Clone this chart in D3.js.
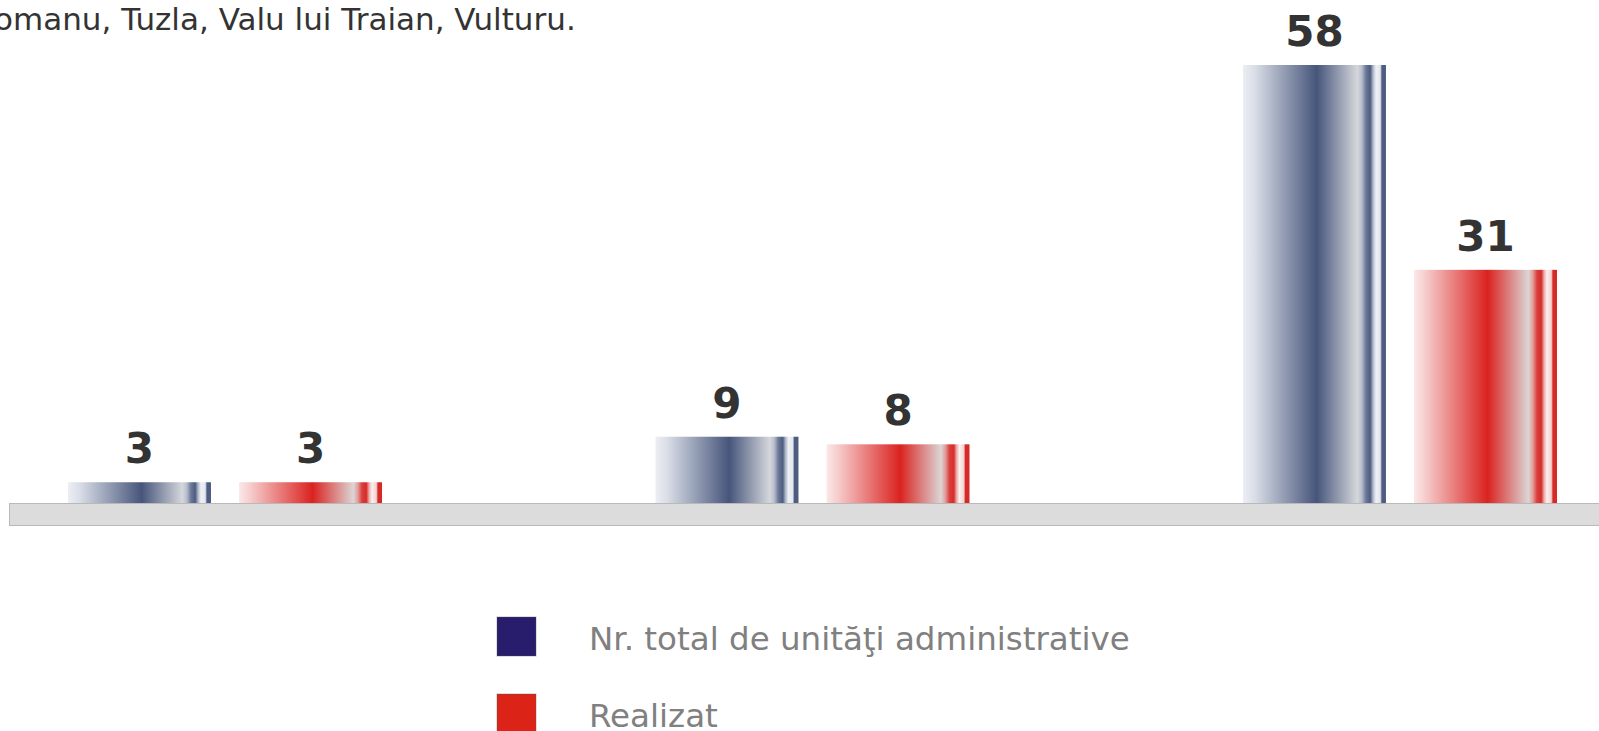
<!DOCTYPE html>
<html lang="ro">
<head>
<meta charset="UTF-8">
<title>Unităţi administrative</title>
<style>
  * { margin: 0; padding: 0; box-sizing: border-box; }
  body { background: #fff; overflow: hidden; }
  svg { display: block; }
</style>
</head>
<body>
<svg id="chart" width="1599" height="731"></svg>
<script src="https://cdn.jsdelivr.net/npm/d3@7"></script>
<script>
  // categories are not printed on the chart (municipii / orase / comune)
  const categories = ["Municipii", "Orașe", "Comune"];
  const series = ["Nr. total de unităţi administrative", "Realizat"];
  const totalValues = [3, 9, 58];
  const realizatValues = [3, 8, 31];
  const seriesValues = [totalValues, realizatValues];
  const noteText = "omanu, Tuzla, Valu lui Traian, Vulturu.";

  const width = 1599, height = 731;
  const svg = d3.select("#chart");
  const defs = svg.append("defs");

  // bar gradients, one per series
  const gradStops = [
    [[0, "#eceef3"], [0.08, "#dadee7"], [0.515, "#46557b"], [0.80, "#d5d7db"], [0.83, "#b8bfcd"],
     [0.86, "#6b7898"], [0.89, "#4d5c80"], [0.91, "#b0b8ca"], [0.93, "#eef0f5"], [0.96, "#e4e7ee"],
     [0.972, "#4d5c80"], [1, "#4d5c80"]],
    [[0, "#fce8e8"], [0.08, "#f6cccc"], [0.515, "#da2320"], [0.80, "#dcd5d5"], [0.83, "#e49f9d"],
     [0.86, "#d9403d"], [0.89, "#d62c29"], [0.91, "#ecadab"], [0.93, "#fcf0f0"], [0.96, "#f2d2d1"],
     [0.972, "#d62a27"], [1, "#d62a27"]]
  ];
  const legendColors = ["#281c6c", "#dc2318"];

  gradStops.forEach((stops, i) => {
    const gr = defs.append("linearGradient").attr("id", "grad" + i)
      .attr("x1", "0").attr("x2", "1").attr("y1", "0").attr("y2", "0");
    gr.selectAll("stop").data(stops).join("stop")
      .attr("offset", d => d[0]).attr("stop-color", d => d[1]);
  });

  // scales
  const x0 = d3.scaleBand().domain(categories).range([68, 1557]).paddingInner(0.4655).paddingOuter(0);
  const x1 = d3.scaleBand().domain(series).range([0, x0.bandwidth()]).paddingInner(0.164).paddingOuter(0);
  const y = d3.scaleLinear().domain([0, 58]).range([505, 65]);

  // note text (cut at the left edge)
  svg.append("text").attr("x", -6).attr("y", 30)
    .attr("font-family", "DejaVu Sans, Verdana, sans-serif").attr("font-size", 31)
    .attr("fill", "#333").text(noteText);

  // bars
  const groups = svg.append("g").selectAll("g").data(categories).join("g")
    .attr("transform", d => `translate(${x0(d)},0)`);

  groups.selectAll("rect")
    .data((c, ci) => series.map((s, si) => ({ s, si, v: seriesValues[si][ci] })))
    .join("rect")
    .attr("x", d => x1(d.s)).attr("width", x1.bandwidth())
    .attr("y", d => y(d.v)).attr("height", d => y(0) - y(d.v))
    .attr("fill", d => `url(#grad${d.si})`);

  groups.selectAll("text")
    .data((c, ci) => series.map((s, si) => ({ s, si, v: seriesValues[si][ci] })))
    .join("text")
    .attr("x", d => x1(d.s) + x1.bandwidth() / 2).attr("y", d => y(d.v) - 19)
    .attr("text-anchor", "middle")
    .attr("font-family", "DejaVu Sans, Verdana, sans-serif").attr("font-weight", "bold")
    .attr("font-size", 42).attr("fill", "#333")
    .text(d => d.v);

  // floor
  svg.append("rect").attr("x", 9.5).attr("y", 503.5).attr("width", width).attr("height", 22)
    .attr("fill", "#dcdcdc").attr("stroke", "#b9b9b9").attr("stroke-width", 1);

  // legend
  const legend = svg.append("g").selectAll("g").data(series).join("g")
    .attr("transform", (d, i) => `translate(497,${617 + i * 77})`);
  legend.append("rect").attr("width", 39).attr("height", 39)
    .attr("fill", (d, i) => legendColors[i]).attr("stroke", "#555").attr("stroke-opacity", 0.4);
  legend.append("text").attr("x", 92).attr("y", 33)
    .attr("font-family", "DejaVu Sans, Verdana, sans-serif").attr("font-size", 32.5)
    .attr("fill", "#808080").text(d => d);
</script>
</body>
</html>
